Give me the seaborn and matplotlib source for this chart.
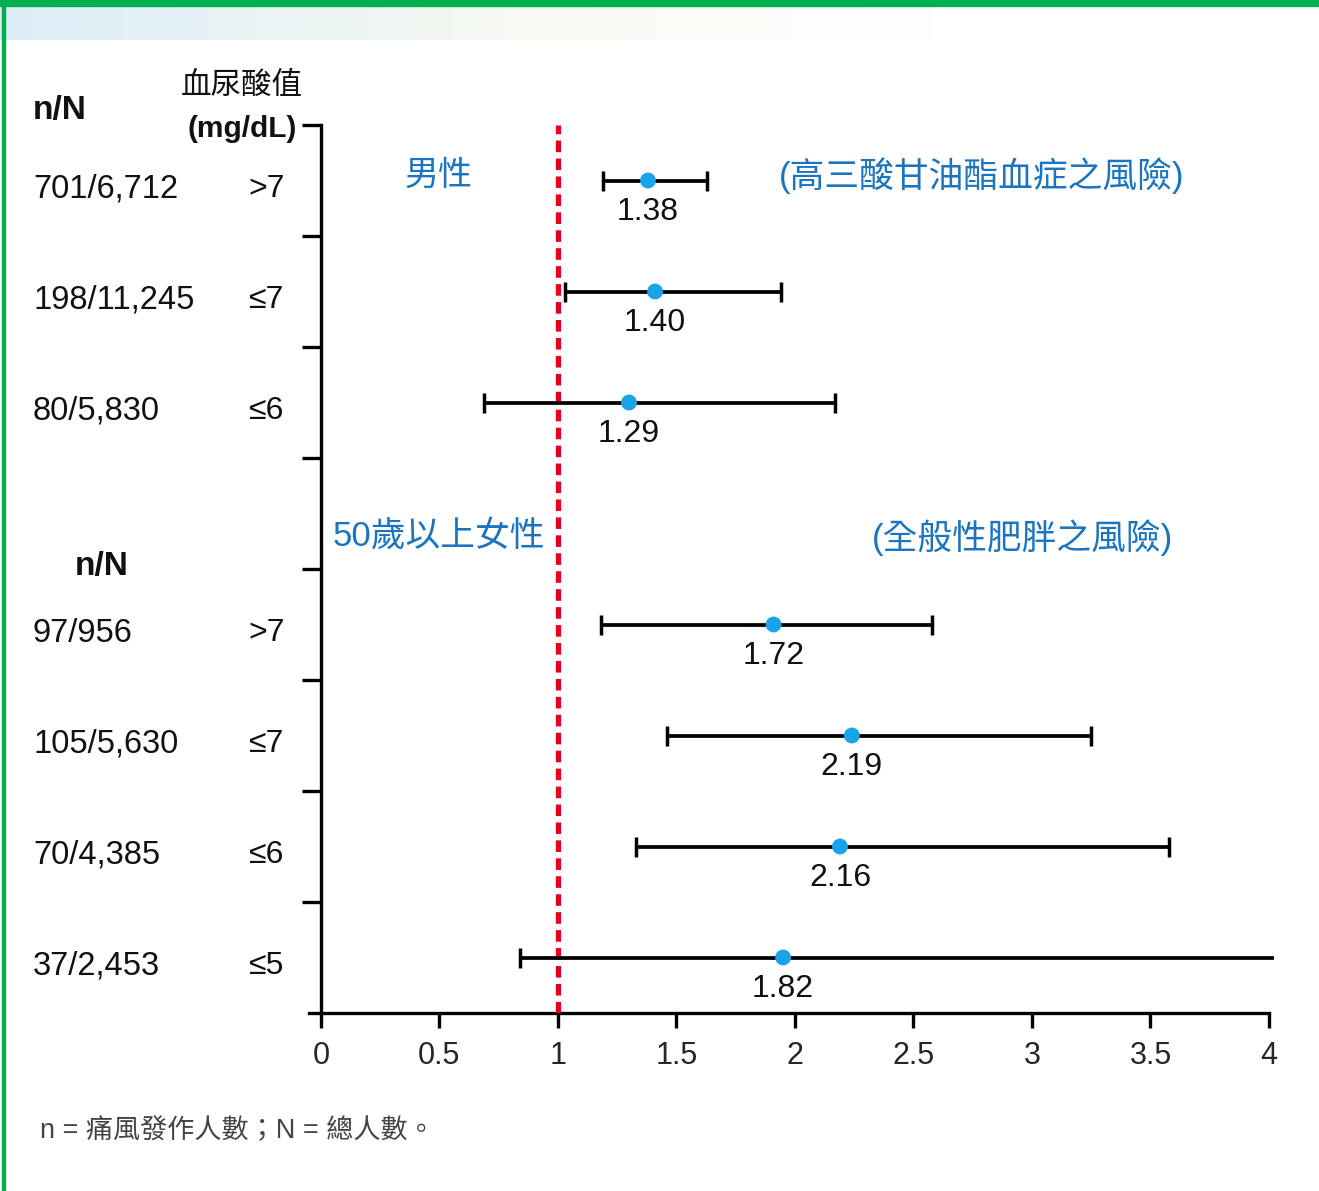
import numpy as np
import matplotlib
matplotlib.use("Agg")
import matplotlib.pyplot as plt
import matplotlib.transforms as mtransforms
from matplotlib.patches import Rectangle
import seaborn as sns

# data
nN_labels = ["701/6,712", "198/11,245", "80/5,830", "97/956", "105/5,630", "70/4,385", "37/2,453"]
ua_labels = [">7", "≤7", "≤6", ">7", "≤7", "≤6", "≤5"]
hr_text = ["1.38", "1.40", "1.29", "1.72", "2.19", "2.16", "1.82"]
hr_point = [1.38, 1.41, 1.30, 1.91, 2.24, 2.19, 1.95]
ci_low = [1.19, 1.03, 0.69, 1.18, 1.46, 1.33, 0.84]
ci_high = [1.63, 1.94, 2.17, 2.58, 3.25, 3.58, 4.02]
rows = [0.5, 1.5, 2.5, 4.5, 5.5, 6.5, 7.5]
xticks = [0, 0.5, 1, 1.5, 2, 2.5, 3, 3.5, 4]
xtick_labels = ["0", "0.5", "1", "1.5", "2", "2.5", "3", "3.5", "4"]

sns.set_style("white")
plt.rcParams['font.family'] = ['Liberation Sans', 'Noto Sans CJK TC', 'DejaVu Sans']

W, H = 1319, 1191
fig = plt.figure(figsize=(W / 100, H / 100), dpi=100)

# page decoration: green frame + faint gradient band
bg = fig.add_axes([0, 0, 1, 1], zorder=-5)
bg.set_xlim(0, W)
bg.set_ylim(H, 0)
bg.axis("off")
grad = np.ones((1, 400, 4))
t = np.linspace(0, 1, 400)
c0 = np.array([0.86, 0.93, 0.97])
c1 = np.array([0.97, 0.98, 0.94])
for i in range(3):
    grad[0, :, i] = np.where(t < 0.5, c0[i] + (c1[i] - c0[i]) * t / 0.5, c1[i])
grad[0, :, 3] = np.clip(1.0 - (t - 0.35) / 0.5, 0, 1)
bg.imshow(grad, extent=(0, 1100, 40, 6), aspect="auto")
bg.add_patch(Rectangle((0, 0), W, 6, color="#00b050"))
bg.add_patch(Rectangle((2, 0), 2.5, H, color="#00b050"))

# main axes
ax = fig.add_axes([309 / W, (H - 1013) / H, 960 / W, 888 / H])
ax.set_xlim(-0.05, 4.0)
ax.set_ylim(8, 0)

lw = 2.4
ax.axvline(1, color="#e8001c", lw=3.8, linestyle=(0, (2.2, 1.2)), zorder=3)

ax.hlines(rows, ci_low, ci_high, color="black", lw=2.7, zorder=4, clip_on=False)
caps_x = [v for v in ci_low] + [v for v in ci_high if v <= 4]
caps_y = list(rows) + [r for r, v in zip(rows, ci_high) if v <= 4]
ax.plot(caps_x, caps_y, linestyle="none", marker="|", markersize=15,
        markeredgewidth=2.5, color="black", zorder=4, clip_on=False)
sns.scatterplot(x=hr_point, y=rows, ax=ax, color="#1aa3e8", s=130,
                edgecolor="none", zorder=5, clip_on=False)

for x, y, s in zip(hr_point, rows, hr_text):
    ax.text(x, y + 0.28, s, ha="center", va="center", fontsize=23, color="#111111")

# axes styling
for side in ["top", "right"]:
    ax.spines[side].set_visible(False)
ax.spines["left"].set_position(("data", 0))
for side in ["left", "bottom"]:
    ax.spines[side].set_linewidth(lw)
    ax.spines[side].set_color("black")
ax.set_xticks(xticks)
ax.set_xticklabels(xtick_labels)
ax.set_yticks(range(0, 8))
ax.set_yticklabels([])
ax.tick_params(axis="x", direction="out", length=11, width=lw, labelsize=22,
               pad=9, bottom=True, color="black")
ax.tick_params(axis="y", direction="out", length=14, width=lw, left=True, color="black")
ax.set_xlabel("")
ax.set_ylabel("")

# left-side labels: x in figure pixels, y in data rows
trans = mtransforms.blended_transform_factory(fig.transFigure, ax.transData)
for y, a, b in zip(rows, nN_labels, ua_labels):
    ax.text(33 / W, y + 0.08, a, transform=trans, ha="left", va="center",
            fontsize=23.5, color="#111111")
    ax.text(248 / W, y + 0.08, b, transform=trans, ha="left", va="center",
            fontsize=23, color="#111111")

fig.text(33 / W, 1 - 111 / H, "n/N", ha="left", va="center", fontsize=24,
         fontweight="bold", color="#111111")
fig.text(75 / W, 1 - 566 / H, "n/N", ha="left", va="center", fontsize=24,
         fontweight="bold", color="#111111")
fig.text(242 / W, 1 - 86 / H, "血尿酸值", ha="center", va="center", fontsize=22,
         color="#111111")
fig.text(242 / W, 1 - 129 / H, "(mg/dL)", ha="center", va="center", fontsize=21.5,
         fontweight="bold", color="#111111")

blue = "#1a74c0"
fig.text(439 / W, 1 - 176 / H, "男性", ha="center", va="center", fontsize=24.5, color=blue)
fig.text(982 / W, 1 - 176 / H, "(高三酸甘油酯血症之風險)", ha="center", va="center",
         fontsize=25, color=blue)
fig.text(439 / W, 1 - 536 / H, "50歲以上女性", ha="center", va="center", fontsize=25,
         color=blue)
fig.text(1023 / W, 1 - 538 / H, "(全般性肥胖之風險)", ha="center", va="center",
         fontsize=25, color=blue)

fig.text(40 / W, 1 - 1131 / H, "n = 痛風發作人數；N = 總人數。", ha="left", va="center",
         fontsize=19.5, color="#444444")

fig.savefig("out.png", dpi=100)
plt.close(fig)
